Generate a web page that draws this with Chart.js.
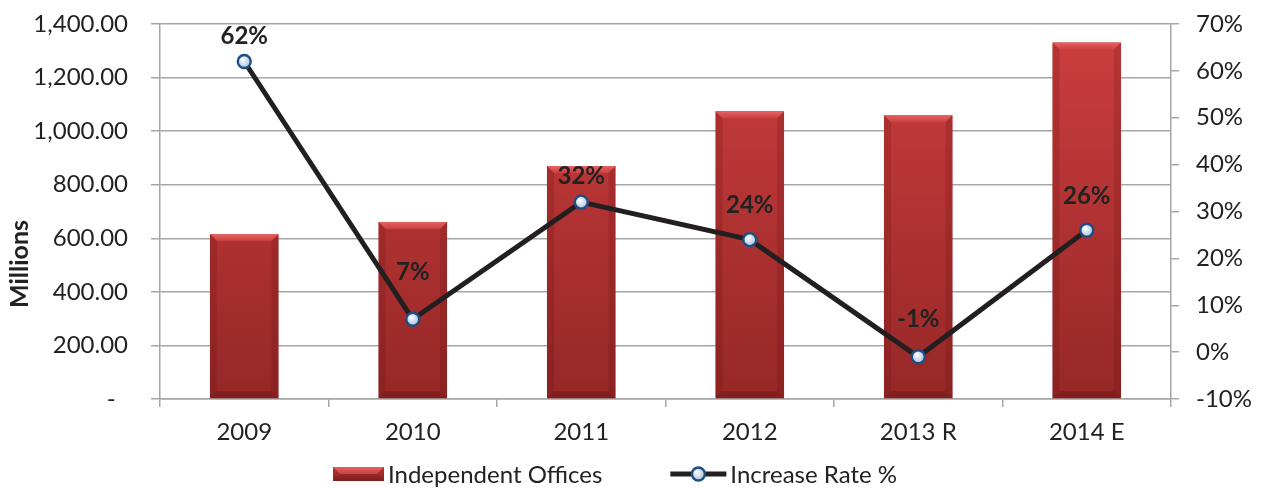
<!DOCTYPE html>
<html>
<head>
<meta charset="utf-8">
<style>
  html, body { margin: 0; padding: 0; background: #fff; }
  #wrap { width: 1261px; height: 488px; }
</style>
<script src="https://cdn.jsdelivr.net/npm/chart.js@4.4.1/dist/chart.umd.min.js"></script>
</head>
<body>
<div id="wrap"><canvas id="chart" width="1261" height="488"></canvas></div>
<script>
const years = ['2009', '2010', '2011', '2012', '2013 R', '2014 E'];
const independentOffices = [616, 661, 870, 1074, 1059, 1331];
const increaseRate = [62, 7, 32, 24, -1, 26];
const leftAxis = { min: 0, max: 1400, step: 200 };
const rightAxis = { min: -10, max: 70, step: 10 };

const FONT = 'Lato, "Open Sans", sans-serif';
const TEXT = '#222222';
const GRID = '#a6a6a6';

// how far each % label sits above its marker (hand placed in the original)
const labelLift = [25, 47, 26, 34, 38, 34];

function barGradient(ctx, top, bottom) {
    const g = ctx.createLinearGradient(0, top, 0, bottom);
    g.addColorStop(0, '#cd3e3e');
    g.addColorStop(1, '#962727');
    return g;
}

function drawBevel(ctx, x0, x1, top, bottom) {
    const w = x1 - x0;
    const b = Math.min(7, w / 6);
    // top bevel
    const tg = ctx.createLinearGradient(0, top, 0, top + b);
    tg.addColorStop(0, '#e86262');
    tg.addColorStop(1, '#c94040');
    ctx.fillStyle = tg;
    ctx.beginPath();
    ctx.moveTo(x0, top);
    ctx.lineTo(x1, top);
    ctx.lineTo(x1 - b, top + b);
    ctx.lineTo(x0 + b, top + b);
    ctx.closePath();
    ctx.fill();
    // sides and bottom a bit darker
    ctx.fillStyle = 'rgba(90, 10, 10, 0.18)';
    ctx.beginPath();
    ctx.moveTo(x0, top);
    ctx.lineTo(x0 + b, top + b);
    ctx.lineTo(x0 + b, bottom - b);
    ctx.lineTo(x0, bottom);
    ctx.closePath();
    ctx.fill();
    ctx.beginPath();
    ctx.moveTo(x1, top);
    ctx.lineTo(x1 - b, top + b);
    ctx.lineTo(x1 - b, bottom - b);
    ctx.lineTo(x1, bottom);
    ctx.closePath();
    ctx.fill();
    ctx.fillStyle = 'rgba(60, 0, 0, 0.22)';
    ctx.beginPath();
    ctx.moveTo(x0, bottom);
    ctx.lineTo(x0 + b, bottom - b);
    ctx.lineTo(x1 - b, bottom - b);
    ctx.lineTo(x1, bottom);
    ctx.closePath();
    ctx.fill();
}

function drawMarker(ctx, x, y, r) {
    ctx.save();
    ctx.beginPath();
    ctx.arc(x, y, r, 0, Math.PI * 2);
    const g = ctx.createRadialGradient(x - r * 0.3, y - r * 0.35, 0.5, x, y, r);
    g.addColorStop(0, '#ffffff');
    g.addColorStop(1, '#a9c3e0');
    ctx.fillStyle = g;
    ctx.fill();
    ctx.lineWidth = 2.4;
    ctx.strokeStyle = '#1f4e85';
    ctx.stroke();
    ctx.restore();
}

const excelTouches = {
    id: 'excelTouches',
    afterDatasetDraw(chart, args) {
        const ctx = chart.ctx;
        if (args.index === 0) {
            args.meta.data.forEach(bar => {
                const half = bar.width / 2;
                drawBevel(ctx, bar.x - half, bar.x + half, bar.y, bar.base);
            });
        } else if (args.index === 1) {
            args.meta.data.forEach(pt => drawMarker(ctx, pt.x, pt.y, 6.5));
        }
    },
    afterDatasetsDraw(chart) {
        const ctx = chart.ctx;
        const meta = chart.getDatasetMeta(1);
        ctx.save();
        ctx.font = 'bold 24px ' + FONT;
        ctx.fillStyle = TEXT;
        ctx.textAlign = 'center';
        ctx.textBaseline = 'middle';
        meta.data.forEach((pt, i) => {
            ctx.fillText(increaseRate[i] + '%', pt.x, pt.y - labelLift[i]);
        });
        ctx.restore();
    },
    afterDraw(chart) {
        const ctx = chart.ctx;
        ctx.save();
        // axis title
        ctx.font = 'bold 25px ' + FONT;
        ctx.fillStyle = TEXT;
        ctx.textAlign = 'center';
        ctx.textBaseline = 'middle';
        ctx.translate(20, 264);
        ctx.rotate(-Math.PI / 2);
        ctx.fillText('Millions', 0, 0);
        ctx.restore();

        // legend
        ctx.save();
        ctx.font = '24px ' + FONT;
        ctx.fillStyle = TEXT;
        ctx.textBaseline = 'middle';
        ctx.textAlign = 'left';
        const cy = 474;
        let x = 333;
        chart.data.datasets.forEach((ds, i) => {
            if (i === 0) {
                ctx.fillStyle = barGradient(ctx, cy - 7, cy + 7);
                ctx.fillRect(x, cy - 7, 51, 14);
                drawBevel(ctx, x, x + 51, cy - 7, cy + 7);
            } else {
                ctx.strokeStyle = '#231f20';
                ctx.lineWidth = 5;
                ctx.beginPath();
                ctx.moveTo(x, cy);
                ctx.lineTo(x + 56, cy);
                ctx.stroke();
                drawMarker(ctx, x + 28, cy, 6.5);
            }
            const iconW = i === 0 ? 51 : 56;
            ctx.fillStyle = TEXT;
            ctx.fillText(ds.label, x + iconW + 4, cy + 1);
            x += iconW + 4 + ctx.measureText(ds.label).width + 68;
        });
        ctx.restore();
    }
};

const tickFont = { family: FONT, size: 24 };

// tick padding would otherwise also push the plot top down
function fixVertical(width) {
    return s => {
        s.width = width;
        s.paddingTop = 0;
        s.paddingBottom = 0;
    };
}

new Chart(document.getElementById('chart'), {
    data: {
        labels: years,
        datasets: [
            {
                type: 'bar',
                label: 'Independent Offices',
                data: independentOffices,
                yAxisID: 'y',
                order: 1,
                barPercentage: 0.407,
                categoryPercentage: 1,
                backgroundColor: (c) => {
                    const a = c.chart.chartArea;
                    if (!a) return '#b83434';
                    return barGradient(c.chart.ctx, a.top, a.bottom);
                },
                borderWidth: 0
            },
            {
                type: 'line',
                label: 'Increase Rate %',
                data: increaseRate,
                yAxisID: 'y1',
                order: 0,
                borderColor: '#231f20',
                borderWidth: 5,
                pointRadius: 0,
                pointHoverRadius: 0,
                tension: 0,
                fill: false
            }
        ]
    },
    options: {
        responsive: false,
        animation: false,
        events: [],
        layout: { padding: { top: 24, bottom: 39, left: 0, right: 0 } },
        plugins: {
            legend: { display: false },
            tooltip: { enabled: false }
        },
        scales: {
            x: {
                offset: true,
                grid: { drawOnChartArea: false, offset: true, tickLength: 8, color: GRID, lineWidth: 1.5 },
                border: { color: GRID, width: 1.5 },
                ticks: { font: tickFont, color: TEXT, padding: 11, maxRotation: 0 },
                afterFit(s) { s.height = 50; }
            },
            y: {
                position: 'left',
                min: leftAxis.min,
                max: leftAxis.max,
                grid: { color: GRID, lineWidth: 1.5, tickLength: 9 },
                border: { color: GRID, width: 1.5 },
                ticks: {
                    stepSize: leftAxis.step,
                    font: tickFont,
                    color: TEXT,
                    padding: 23,
                    callback: v => v === 0 ? '-  ' : v.toLocaleString('en-US', { minimumFractionDigits: 2, maximumFractionDigits: 2 })
                },
                afterFit: fixVertical(160)
            },
            y1: {
                position: 'right',
                min: rightAxis.min,
                max: rightAxis.max,
                grid: { drawOnChartArea: false, tickLength: 8, color: GRID, lineWidth: 1.5 },
                border: { color: GRID, width: 1.5 },
                ticks: {
                    stepSize: rightAxis.step,
                    font: tickFont,
                    color: TEXT,
                    padding: 17,
                    callback: v => v + '%'
                },
                afterFit: fixVertical(90)
            }
        }
    },
    plugins: [excelTouches]
});
</script>
</body>
</html>
